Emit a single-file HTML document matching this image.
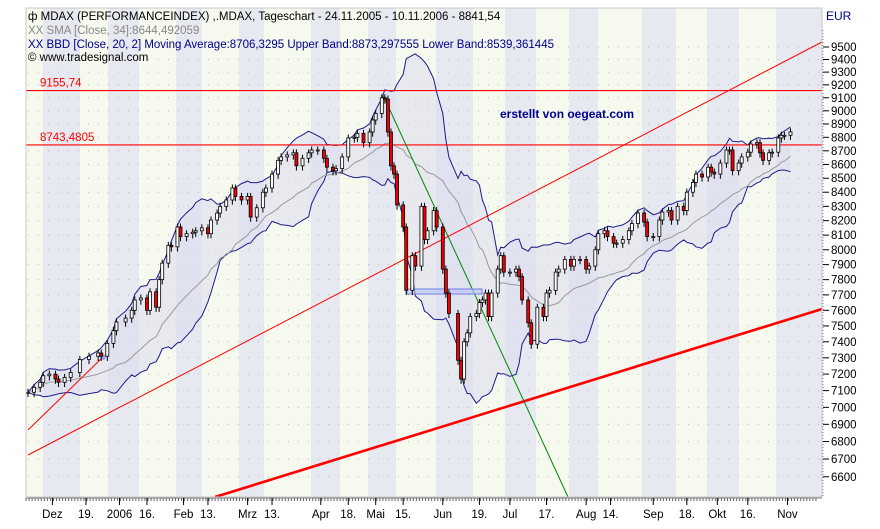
<!DOCTYPE html>
<html><head><meta charset="utf-8"><style>
body{margin:0;background:#fff;width:880px;height:529px;overflow:hidden}
svg{display:block;font-family:"Liberation Sans",sans-serif}
</style></head><body>
<svg id="chart" width="880" height="529" viewBox="0 0 880 529">
<g id="bg"></g>
<g id="grid"></g>
<g id="bands"></g>
<g id="lines"></g>
<g id="candles"></g>
<g id="axes"></g>
<rect x="26" y="8" width="796" height="489" fill="none" stroke="#c8c8c8"/>
<g font-size="11.5">
<text x="28" y="20" fill="#000">ф MDAX (PERFORMANCEINDEX) ,.MDAX, Tageschart - 24.11.2005 - 10.11.2006 - 8841,54</text>
<text x="28" y="34" fill="#888">XX SMA [Close, 34]:8644,492059</text>
<text x="28" y="48" fill="#00008b">XX BBD [Close, 20, 2] Moving Average:8706,3295 Upper Band:8873,297555 Lower Band:8539,361445</text>
<text x="28" y="61" fill="#000">© www.tradesignal.com</text>
</g>
<text x="826" y="20" font-size="12" fill="#00008b">EUR</text>
<text x="500" y="118" font-size="12" font-weight="bold" fill="#00008b">erstellt von oegeat.com</text>
</svg>
<script>
const days=[0,2,4,5,7,9,10,12,14,17,20,23,24,26,28,29,32,34,35,37,39,40,42,43,44,46,47,49,50,52,54,55,57,59,60,62,63,65,67,68,70,72,73,75,77,78,80,82,83,85,87,88,90,92,93,95,97,98,100,101,103,105,107,108,110,112,113,114,
116,117,118,119,120,121,123,124,126,127,129,130,131,133,134,136,137,138,141,142,143,144,145,147,148,149,150,151,152,154,155,156,158,160,161,162,164,165,167,169,170,171,173,174,176,178,179,181,183,184,186,187,189,190,192,193,195,197,198,200,202,203,205,207,208,210,211,213,215,216,218,219,221,223,224,225,227,229,230,231,233,234,236,237,239,240,241,243,244,246,247,248,250];
const closes=[7090,7120,7150,7190,7200,7170,7150,7180,7210,7290,7310,7330,7310,7390,7470,7525,7550,7600,7667,7680,7600,7720,7620,7800,7910,8030,8020,8156,8090,8110,8120,8130,8150,8110,8204,8253,8300,8345,8430,8370,8345,8370,8225,8290,8400,8430,8530,8630,8655,8670,8685,8590,8645,8685,8706,8706,8645,8580,8555,8570,8655,8795,8800,8830,8760,8840,8930,8980,
9100,9090,8840,8590,8530,8310,8156,7730,7960,7890,8300,8070,8130,8270,8156,7870,7712,7580,7285,7170,7400,7456,7560,7580,7650,7667,7712,7560,7712,7870,7960,7850,7850,7870,7820,7667,7520,7385,7620,7560,7712,7730,7850,7870,7935,7890,7935,7935,7870,7890,8000,8110,8130,8090,8045,8045,8070,8130,8180,8253,8190,8090,8090,8204,8260,8270,8204,8300,8270,8400,8470,8530,8509,8580,8545,8530,8610,8706,8706,8555,8610,8655,8690,8750,8760,8685,8630,8685,8690,8795,8815,8815,8841];
const priceTicks=[6600,6700,6800,6900,7000,7100,7200,7300,7400,7500,7600,7700,7800,7900,8000,8100,8200,8300,8400,8500,8600,8700,8800,8900,9000,9100,9200,9300,9400,9500];
const dateLabels=["Dez","19.","2006","16.","Feb","13.","Mrz","13.","Apr","18.","Mai","15.","Jun","19.","Jul","17.","Aug","14.","Sep","18.","Okt","16.","Nov"];
const dateLabelDays=[8,19,30,39,51,59,72,80,96,105,114,123,136,148,158,170,183,191,205,216,226,236,249];
const hLevels=[9155.74,8743.4805];
const hLabels=["9155,74","8743,4805"];

const NS="http://www.w3.org/2000/svg";
const y=p=>47+1180*Math.log(9500/p);
const x=d=>28+3.05*d;
function mk(tag,at,parent){const e=document.createElementNS(NS,tag);for(const k in at)e.setAttribute(k,at[k]);document.getElementById(parent).appendChild(e);return e;}

// stripes
const stripes=[26,43,80,108,139,176,202,239,264,311,340,368,396,436,473,505,536,569,598,642,676,707,739,776,822];
for(let i=0;i<stripes.length-1;i++){
 const r=mk('rect',{x:stripes[i],y:8,width:stripes[i+1]-stripes[i],height:489,fill:i%2?'#e6e9f0':'#f6f9ee'},'bg');
 
 
}
// grid dots
priceTicks.forEach(p=>{const l=mk('line',{x1:28,x2:822,y1:y(p),y2:y(p),stroke:'#b8b8b8','stroke-dasharray':'1 9'},'grid');
 });

// bands
const sma=[],mid=[],up=[],lo=[];
days.forEach((d,i)=>{
 const w20=[],w34=[];
 days.forEach((d2,j)=>{if(d2<=d&&d2>d-20)w20.push(closes[j]);if(d2<=d&&d2>d-34)w34.push(closes[j]);});
 const m=w20.reduce((a,b)=>a+b,0)/w20.length;
 const sd=Math.sqrt(w20.reduce((a,b)=>a+(b-m)*(b-m),0)/w20.length);
 mid.push(m);up.push(m+2*sd);lo.push(m-2*sd);
 sma.push(w34.reduce((a,b)=>a+b,0)/w34.length);
});
const pts=a=>a.map((v,i)=>x(days[i]).toFixed(1)+','+y(v).toFixed(1)).join(' ');
const fill=mk('polygon',{points:pts(up)+' '+pts(lo).split(' ').reverse().join(' '),fill:'#dcdcf0','fill-opacity':'0.55'},'bands');

[[up,'#1a1a8c','upper-band'],[lo,'#1a1a8c','lower-band'],[sma,'#999','sma-34']].forEach(([a,c,n])=>{
 const l=mk('polyline',{points:pts(a),fill:'none',stroke:c,'stroke-width':1},'bands');
 });

// lines
hLevels.forEach((p,i)=>{
 const l=mk('line',{x1:26,x2:822,y1:y(p),y2:y(p),stroke:'#f00','stroke-width':1.2},'lines');
 
 const t=mk('text',{x:40,y:y(p)-4,fill:'#f00','font-size':11.5},'lines');t.textContent=hLabels[i];
 
});
[[28,455,822,42,1,'upper-channel-line'],[28,430,103,357,1,'short-trend-line'],[215,497,822,309,2.6,'support-trend-line']].forEach(a=>{
 const l=mk('line',{x1:a[0],y1:a[1],x2:a[2],y2:a[3],stroke:'#f00','stroke-width':a[4]},'lines');
 });
const g=mk('line',{x1:383,y1:95,x2:568,y2:497,stroke:'#080','stroke-width':1},'lines');

const rb=mk('rect',{x:407,y:289,width:75,height:5,fill:'#b8c0f8',stroke:'#7080e8','fill-opacity':0.6},'lines');

const ci=mk('circle',{cx:103,cy:357,r:3,fill:'#9fa0ee'},'lines');


// candles
closes.forEach((c,i)=>{
 const o=i?closes[i-1]:c;const cx=x(days[i]);
 const hi=Math.max(o,c)*1.003,low=Math.min(o,c)*0.996;
 const w=mk('line',{x1:cx,x2:cx,y1:y(hi),y2:y(low),stroke:'#000'},'candles');
 
 const top=y(Math.max(o,c)),bot=y(Math.min(o,c));
 const b=mk('rect',{x:cx-1.5,y:top,width:3,height:Math.max(1,bot-top),fill:c>=o?'#fff':'#e00',stroke:'#000','stroke-width':0.8},'candles');
 
});

// y axis
const ax=mk('line',{x1:823,x2:823,y1:30,y2:497,stroke:'#888','stroke-dasharray':'1 2'},'axes');

priceTicks.forEach(p=>{
 const tk=mk('line',{x1:823,x2:829,y1:y(p),y2:y(p),stroke:'#000'},'axes');
 
 const t=mk('text',{x:831,y:y(p)+4,'font-size':11.5,fill:'#000'},'axes');t.textContent=p;
 
});
// x axis
const xl=mk('line',{x1:26,x2:822,y1:498,y2:498,stroke:'#888'},'axes');

for(let d=0;d<=259;d++){const m=mk('line',{x1:x(d)-2,x2:x(d)-2,y1:498,y2:501,stroke:'#666'},'axes');
 }
dateLabels.forEach((s,i)=>{
 const px=x(dateLabelDays[i]);
 const tk=mk('line',{x1:px,x2:px,y1:498,y2:505,stroke:'#000'},'axes');
 
 const t=mk('text',{x:px,y:518,'font-size':11.5,'text-anchor':'middle'},'axes');t.textContent=s;
 
});
</script>
</body></html>
